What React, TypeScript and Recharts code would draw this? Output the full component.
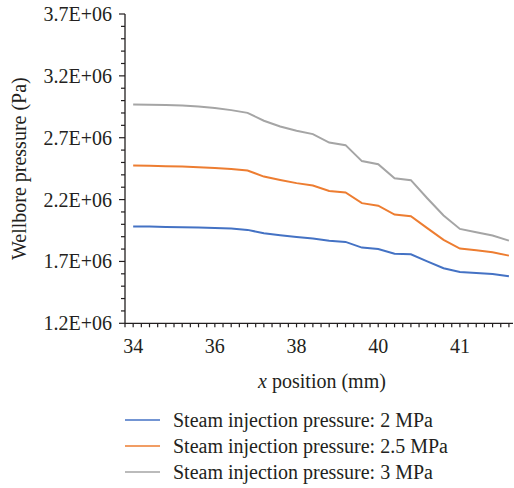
import { LineChart, Line, XAxis, YAxis, Legend } from "recharts";

// x categories carrying a data point (every second mesh cell)
const cellIndex = [0, 2, 4, 6, 8, 10, 12, 14, 16, 18, 20, 22, 24, 26, 28, 30, 32, 34, 36, 38, 40, 42, 44, 46];

// labelled cells on the x axis and their positions in mm
const xLabelCells = [0, 10, 20, 30, 40];
const xLabels = ["34", "36", "38", "40", "41"];

// wellbore pressure (Pa) for each steam injection pressure
const p2MPa = [
  1.982e6, 1.982e6, 1.979e6, 1.977e6, 1.974e6, 1.971e6, 1.966e6, 1.955e6, 1.928e6, 1.912e6, 1.898e6, 1.885e6,
  1.868e6, 1.858e6, 1.812e6, 1.801e6, 1.763e6, 1.758e6, 1.7e6, 1.645e6, 1.615e6, 1.607e6, 1.599e6, 1.58e6,
];
const p25MPa = [
  2.475e6, 2.473e6, 2.47e6, 2.467e6, 2.462e6, 2.456e6, 2.448e6, 2.435e6, 2.386e6, 2.359e6, 2.333e6, 2.313e6,
  2.27e6, 2.257e6, 2.171e6, 2.151e6, 2.079e6, 2.066e6, 1.969e6, 1.874e6, 1.804e6, 1.791e6, 1.774e6, 1.747e6,
];
const p3MPa = [
  2.969e6, 2.966e6, 2.964e6, 2.96e6, 2.952e6, 2.94e6, 2.923e6, 2.901e6, 2.837e6, 2.791e6, 2.756e6, 2.729e6,
  2.661e6, 2.64e6, 2.511e6, 2.486e6, 2.373e6, 2.357e6, 2.211e6, 2.071e6, 1.963e6, 1.936e6, 1.909e6, 1.868e6,
];

const seriesNames = [
  "Steam injection pressure: 2 MPa",
  "Steam injection pressure: 2.5 MPa",
  "Steam injection pressure: 3 MPa",
];
const seriesColors = ["#4472C4", "#ED7D31", "#A5A5A5"];

const yMajorTicks = [1.2e6, 1.7e6, 2.2e6, 2.7e6, 3.2e6, 3.7e6];

const data = cellIndex.map((i, k) => ({ i, s2: p2MPa[k], s25: p25MPa[k], s3: p3MPa[k] }));
const seriesKeys = ["s2", "s25", "s3"];

// minor ticks every 0.1E+06 on y, one per cell on x
const yTicks = Array.from({ length: 26 }, (_, k) => 1200000 + k * 100000);
const xTicks = Array.from({ length: 48 }, (_, k) => k - 1);

const FONT = "'Liberation Serif', 'Times New Roman', serif";
const INK = "#231F20";

const fmtSci = (v: number) => `${(v / 1e6).toFixed(1)}E+06`;

function YTick({ x, y, payload }: any) {
  const v = payload.value;
  const major = yMajorTicks.includes(v);
  return (
    <g>
      <line x1={x - (major ? 6 : 4)} x2={x} y1={y} y2={y} stroke={INK} strokeWidth={1.2} />
      {major && (
        <text x={x - 13} y={y} dy="0.35em" textAnchor="end" fontFamily={FONT} fontSize={20} fill={INK}>
          {fmtSci(v)}
        </text>
      )}
    </g>
  );
}

function XTick({ x, y, payload }: any) {
  const idx = xLabelCells.indexOf(payload.value);
  return (
    <g>
      <line x1={x} x2={x} y1={y} y2={y + 4} stroke={INK} strokeWidth={1.2} />
      {idx >= 0 && (
        <text x={x} y={y + 30} textAnchor="middle" fontFamily={FONT} fontSize={20} fill={INK}>
          {xLabels[idx]}
        </text>
      )}
    </g>
  );
}

function XTitle({ viewBox }: any) {
  const cx = viewBox.x + viewBox.width / 2;
  return (
    <text x={cx + 3} y={viewBox.y + 65} textAnchor="middle" fontFamily={FONT} fontSize={20} fill={INK}>
      <tspan fontStyle="italic">x</tspan> position (mm)
    </text>
  );
}

function YTitle({ viewBox }: any) {
  const cy = viewBox.y + viewBox.height / 2;
  return (
    <text
      x={26}
      y={cy}
      transform={`rotate(-90, 26, ${cy})`}
      textAnchor="middle"
      fontFamily={FONT}
      fontSize={20}
      fill={INK}
    >
      Wellbore pressure (Pa)
    </text>
  );
}

function LegendBox() {
  return (
    <div style={{ width: 513, height: 78, fontFamily: FONT, fontSize: 20, color: INK, lineHeight: "26px" }}>
      {seriesNames.map((name, k) => (
        <div key={name} style={{ display: "flex", alignItems: "center", height: 26 }}>
          <svg width={173} height={26} style={{ flex: "none" }}>
            <line x1={125} x2={160} y1={13} y2={13} stroke={seriesColors[k]} strokeWidth={1.5} />
          </svg>
          <span style={{ whiteSpace: "nowrap" }}>{name}</span>
        </div>
      ))}
    </div>
  );
}

export default function App() {
  return (
    <div style={{ position: "absolute", left: 0, top: 0, width: 514, height: 488, overflow: "hidden" }}>
      <LineChart width={514} height={488} data={data} margin={{ top: 14, right: 1, bottom: 3, left: 0 }}>
        <XAxis
          dataKey="i"
          type="number"
          domain={[-1, 46.5]}
          ticks={xTicks}
          interval={0}
          tickSize={0}
          tickMargin={0}
          tickLine={false}
          tick={<XTick />}
          height={83.7}
          axisLine={{ stroke: INK, strokeWidth: 1.3 }}
          label={<XTitle />}
        />
        <YAxis
          type="number"
          domain={[1.2e6, 3.7e6]}
          ticks={yTicks}
          interval={0}
          tickSize={0}
          tickMargin={0}
          tickLine={false}
          tick={<YTick />}
          width={125}
          axisLine={{ stroke: INK, strokeWidth: 1.3 }}
          label={<YTitle />}
        />
        <Legend verticalAlign="bottom" align="left" layout="horizontal" content={<LegendBox />} />
        {seriesKeys.map((key, k) => (
          <Line
            key={key}
            dataKey={key}
            name={seriesNames[k]}
            type="linear"
            stroke={seriesColors[k]}
            strokeWidth={2}
            dot={false}
            isAnimationActive={false}
          />
        ))}
      </LineChart>
    </div>
  );
}
